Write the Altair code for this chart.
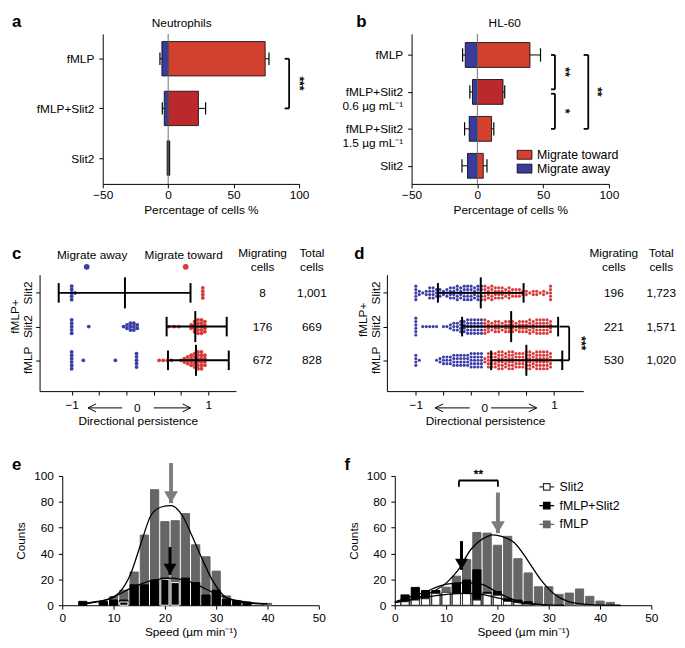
import json
import altair as alt
import pandas as pd

FONT = "Liberation Sans"
RED = "#d4402f"
RED_DARK = "#bb292c"
BLUE = "#3b3b9e"
DOT_BLUE = "#3c3fa6"
DOT_RED = "#d93b3b"
BAR_GRAY = "#666666"
ARROW_GRAY = "#7d7d7d"

# ---------------- panel a : Neutrophils ----------------
a_labels = ["fMLP", "fMLP+Slit2", "Slit2"]
a_toward = [74.1, 23.1, 1.2]
a_toward_err = [77.0, 28.6, 1.2]
a_away = [-4.8, -3.0, -0.8]
a_away_err = [-6.3, -4.5, -0.8]
a_shades = ["Migrate toward", "dark", "black"]
a_brackets = [{"y0": 0, "y1": 1, "x": 92.4, "tick": 89.0, "text": "***", "tx": 100.5}]

# ---------------- panel b : HL-60 ----------------
b_labels = [["fMLP"], ["fMLP+Slit2", "0.6 µg mL⁻¹"], ["fMLP+Slit2", "1.5 µg mL⁻¹"], ["Slit2"]]
b_toward = [40.0, 19.5, 10.8, 4.5]
b_toward_err = [48.0, 20.8, 12.5, 7.3]
b_away = [-9.2, -3.7, -6.2, -7.5]
b_away_err = [-11.2, -5.7, -9.7, -11.7]
b_shades = ["Migrate toward", "dark", "Migrate toward", "Migrate toward"]
b_brackets = [
    {"y0": 0.0, "y1": 0.93, "x": 59.0, "tick": 56.0, "text": "**", "tx": 67.0},
    {"y0": 1.05, "y1": 2.0, "x": 59.0, "tick": 56.0, "text": "*", "tx": 67.0},
    {"y0": 0.0, "y1": 2.0, "x": 84.3, "tick": 80.8, "text": "**", "tx": 91.5},
]

SHADE_DOM = ["Migrate toward", "Migrate away", "dark", "black"]
SHADE_RNG = [RED, BLUE, RED_DARK, "#111111"]

# ---------------- panel c : neutrophil persistence ----------------
c_rows = [3, 2, 1]  # Slit2, fMLP+Slit2, fMLP
c_dot_x = [
    [-1.0, -0.95, 0.92],
    [-1.0, -0.75, -0.24, -0.19, -0.14, -0.09, -0.04, 0.42, 0.5, 0.57, 0.75, 0.8, 0.85, 0.9, 0.95],
    [-1.0, -0.83, -0.36, -0.05, 0.28, 0.34, 0.4, 0.46, 0.6, 0.65, 0.7, 0.75, 0.8, 0.85, 0.9, 0.95],
]
c_dot_n = [
    [5, 1, 4],
    [5, 1, 1, 2, 3, 3, 2, 1, 1, 1, 2, 4, 5, 5, 4],
    [6, 1, 1, 5, 1, 1, 1, 1, 1, 2, 3, 4, 5, 6, 6, 4],
]
c_lo = [-1.19, 0.39, 0.41]
c_mean = [-0.22, 0.81, 0.82]
c_hi = [0.74, 1.27, 1.30]
c_migrating = ["8", "176", "672"]
c_total = ["1,001", "669", "828"]

# ---------------- panel d : HL-60 persistence ----------------
d_rows = [3, 2, 1]
d_bins = [-1.0, -0.95, -0.9, -0.85, -0.8, -0.75, -0.7, -0.65, -0.6, -0.55,
          -0.5, -0.45, -0.4, -0.35, -0.3, -0.25, -0.2, -0.15, -0.1, -0.05,
          0.0, 0.05, 0.1, 0.15, 0.2, 0.25, 0.3, 0.35, 0.4, 0.45,
          0.5, 0.55, 0.6, 0.65, 0.7, 0.75, 0.8, 0.85, 0.9, 0.95]
d_counts = [
    [5, 2, 1, 2, 4, 4, 3, 3, 2, 3, 4, 4, 5, 4, 5, 5, 5, 4, 5, 5,
     5, 4, 5, 4, 4, 4, 3, 4, 3, 3, 3, 2, 2, 1, 2, 2, 1, 2, 1, 5],
    [6, 0, 1, 1, 1, 1, 1, 0, 1, 1, 2, 3, 3, 4, 4, 5, 5, 5, 5, 5,
     5, 4, 3, 4, 4, 3, 4, 4, 4, 3, 4, 4, 4, 5, 4, 5, 5, 5, 5, 4],
    [4, 1, 0, 0, 0, 0, 1, 2, 3, 3, 3, 4, 4, 4, 4, 4, 5, 5, 5, 5,
     2, 5, 5, 5, 6, 6, 5, 6, 6, 5, 5, 5, 6, 6, 5, 6, 6, 6, 6, 5],
]
d_lo = [-0.68, -0.33, 0.09]
d_mean = [-0.06, 0.38, 0.60]
d_hi = [0.56, 1.06, 1.12]
d_migrating = ["196", "221", "530"]
d_total = ["1,723", "1,571", "1,020"]

# ---------------- panel e : neutrophil speed ----------------
e_centers_fmlp = [8, 10, 12, 14, 16, 18, 20, 22, 24, 26, 28, 30, 32, 34, 40]
e_fmlp = [2, 6.7, 11.6, 25.7, 54.3, 89.4, 64.7, 65.4, 70.9, 46.7, 37.5, 26.4, 7.2, 3.7, 1.5]
e_centers_fs = [4, 8, 10, 12, 14, 16, 18, 20, 22, 24, 26, 28, 30, 32, 34, 36]
e_fs = [3, 3, 4, 4, 15.8, 15.8, 19.5, 21, 17.5, 21, 17.5, 7.9, 11.6, 4.6, 3, 2.4]
e_centers_slit2 = [12, 20, 22]
e_slit2 = [2.5, 20, 17.5]
e_fit_fmlp_x = [3.5, 6.1, 9.3, 11.2, 13.3, 15.4, 17.3, 19.3, 21.2, 23.3, 25.3, 27.2, 29.3, 31.7, 34.9, 39.4]
e_fit_fmlp_y = [1, 2.5, 5.4, 10.2, 24, 48.6, 69.6, 76, 77, 70, 53.6, 36.3, 19, 6.7, 2.2, 0.8]
e_fit_fs_x = [3.5, 9.3, 13.3, 17.3, 21.2, 25.3, 29.3, 33, 36.9, 40]
e_fit_fs_y = [1, 5, 13, 19, 21, 17.5, 10, 4.5, 2, 1]
e_arrow_x = [21.2, 21.0]
e_arrow_top = [110, 45]
e_arrow_tip = [79, 23.5]

# ---------------- panel f : HL-60 speed ----------------
f_centers = [2, 4, 6, 8, 10, 12, 14, 16, 18, 20, 22, 24, 26, 28, 30, 32, 34, 36, 38, 40, 42]
f_fmlp = [4, 8, 9, 9, 14, 22.5, 35.3, 56.3, 55.8, 46.4, 53.3, 36, 25, 14.3, 14.3, 8.4, 9.4, 12.6, 6.9, 3.2, 2.2]
f_fs = [8, 13.8, 11.4, 11.4, 9.5, 17, 19.5, 27.4, 10, 10.6, 5, 4, 2.7, 0, 0, 0, 0, 0, 0, 0, 0]
f_slit2 = [2.7, 4, 5, 9, 10, 9, 9, 4, 9, 7.7, 3, 2.5, 1, 0, 0, 0, 0, 0, 0, 0, 0]
f_fit_fmlp_x = [0, 5.3, 10.1, 12.3, 14.9, 18.1, 19.1, 21.0, 23.3, 25.9, 28.4, 31, 33.6, 37.4, 41, 44]
f_fit_fmlp_y = [2.2, 7, 17.5, 27, 43.5, 53.3, 54.5, 53, 48.4, 34.8, 20, 8.9, 3.2, 0.6, 0.1, 0]
f_fit_fs_x = [0, 5.3, 10.1, 13.6, 16.8, 20, 23.3, 26.5, 29.7, 33]
f_fit_fs_y = [2.7, 9.4, 16.3, 17.5, 16.3, 10, 4, 1.2, 0.2, 0]
f_fit_slit2_x = [0, 5.3, 10.1, 13.6, 16.8, 20, 23.3, 26.5, 29.7]
f_fit_slit2_y = [2, 5.7, 8.4, 9.1, 8.4, 5.7, 2.7, 1, 0.2]
f_arrow_x = [20.1, 13.0]
f_arrow_top = [87.2, 49.6]
f_arrow_tip = [55.8, 27.4]

GROUPS = ["Slit2", "fMLP+Slit2", "fMLP"]


def axis(**kw):
    base = dict(grid=False, domainColor="black", tickColor="black", labelColor="black",
                titleColor="black", labelFont=FONT, titleFont=FONT, labelFontSize=12,
                titleFontSize=12, titleFontWeight="normal", tickSize=4, domainWidth=1,
                tickWidth=1, labelFlush=False)
    base.update(kw)
    return alt.Axis(**base)


def one(**cols):
    return pd.DataFrame({k: [v] for k, v in cols.items()})


def letter(ch, x, y):
    return alt.Chart(one(t=ch)).mark_text(
        font=FONT, fontSize=17, fontWeight="bold", align="left", baseline="alphabetic",
        color="black").encode(x=alt.value(x), y=alt.value(y), text="t:N")


def stars_layer(df, X, Y):
    # significance stars written vertically (rotated text, as in the figure)
    return alt.Chart(df).mark_text(font=FONT, fontSize=12, fill="#000000", stroke="#000000",
                                   strokeWidth=0.4, angle=89, baseline="middle").encode(
        x=X("tx"), y=Y("ym"), text="text:N")


def hbar_panel(labels, toward, toward_err, away, away_err, shades, brackets,
               off, w, h, ydom, half, cap, title, title_x, let, let_xy, legend):
    n = len(labels)
    xs = alt.Scale(domain=[-50, 100], range=[off, w], nice=False, zero=False)
    ys = alt.Scale(domain=ydom, reverse=True, nice=False, zero=False)
    xa = axis(values=[-50, 0, 50, 100], title="Percentage of cells %", labelPadding=2,
              titlePadding=4)
    ya = axis(values=list(range(n)),
              labelExpr=json.dumps(labels, ensure_ascii=False) + "[datum.value]",
              title=None, offset=-off, labelPadding=5, labelLineHeight=14)

    def X(f):
        return alt.X(f, type="quantitative", scale=xs, axis=xa)

    def Y(f):
        return alt.Y(f, type="quantitative", scale=ys, axis=ya)

    bars = pd.DataFrame(
        [{"y0": i - half, "y1": i + half, "v0": 0.0, "v1": toward[i], "shade": shades[i]} for i in range(n)]
        + [{"y0": i - half, "y1": i + half, "v0": 0.0, "v1": away[i], "shade": "Migrate away"} for i in range(n)])
    fill = alt.Fill("shade:N", scale=alt.Scale(domain=SHADE_DOM, range=SHADE_RNG), legend=legend)
    l_bars = alt.Chart(bars).mark_rect(stroke="black", strokeWidth=0.8).encode(
        x=X("v0"), x2="v1", y=Y("y0"), y2="y1", fill=fill)

    err_rows = []
    for i in range(n):
        if toward_err[i] != toward[i]:
            err_rows.append({"y": i, "a": toward[i], "b": toward_err[i]})
        if away_err[i] != away[i]:
            err_rows.append({"y": i, "a": away[i], "b": away_err[i]})
    err = pd.DataFrame(err_rows)
    err["c0"] = err["y"] - cap
    err["c1"] = err["y"] + cap
    l_whisk = alt.Chart(err).mark_rule(color="black", strokeWidth=1).encode(x=X("a"), x2="b", y=Y("y"))
    l_caps = alt.Chart(err).mark_rule(color="black", strokeWidth=1.2).encode(x=X("b"), y=Y("c0"), y2="c1")

    l_zero = alt.Chart(one(z=0.0)).mark_rule(color="#6f6f6f", strokeWidth=1).encode(x=X("z"))

    br = pd.DataFrame(brackets)
    br["ym"] = (br["y0"] + br["y1"]) / 2
    l_vert = alt.Chart(br).mark_rule(color="black", strokeWidth=1.8).encode(x=X("x"), y=Y("y0"), y2="y1")
    l_t0 = alt.Chart(br).mark_rule(color="black", strokeWidth=1.8).encode(x=X("tick"), x2="x", y=Y("y0"))
    l_t1 = alt.Chart(br).mark_rule(color="black", strokeWidth=1.8).encode(x=X("tick"), x2="x", y=Y("y1"))
    l_star = stars_layer(br, X, Y)

    l_title = alt.Chart(one(t=title, x=title_x)).mark_text(
        font=FONT, fontSize=12, baseline="middle", color="black").encode(
        x=X("x"), y=alt.value(-11), text="t:N")

    return alt.layer(l_bars, l_zero, l_whisk, l_caps, l_vert, l_t0, l_t1, l_star, l_title,
                     letter(let, *let_xy)).properties(width=w, height=h)


def swarm_panel(dot_x, dot_n, lo, mean, hi, xdom, w, h, let, let_xy, migr, total,
                mcol_x, tcol_x, zero_x, arrows, ylabels, header=None, bracket=None,
                dot_size=12):
    rows = [3, 2, 1]
    xs = alt.Scale(domain=xdom, nice=False, zero=False)
    ys = alt.Scale(domain=[0.086, 3.54], nice=False, zero=False)
    xa = axis(values=[-1, -0.6, -0.2, 0.2, 0.6, 1],
              labelExpr="datum.value == -1 ? '\u22121' : (datum.value == 1 ? '1' : '')",
              title="Directional persistence", labelPadding=5, titlePadding=5)
    ya = axis(values=[1, 2, 3], labels=False, title=None)

    def X(f):
        return alt.X(f, type="quantitative", scale=xs, axis=xa)

    def Y(f):
        return alt.Y(f, type="quantitative", scale=ys, axis=ya)

    dots = []
    for r, xl, nl in zip(rows, dot_x, dot_n):
        for xv, nv in zip(xl, nl):
            for k in range(nv):
                dots.append({"x": xv, "y": r + (k - (nv - 1) / 2) * 0.1,
                             "side": "away" if xv < 0 else "toward"})
    dots = pd.DataFrame(dots)
    l_dots = alt.Chart(dots).mark_circle(size=dot_size, opacity=1).encode(
        x=X("x"), y=Y("y"),
        color=alt.Color("side:N", scale=alt.Scale(domain=["away", "toward"], range=[DOT_BLUE, DOT_RED]),
                        legend=None))

    eb = pd.DataFrame({"r": rows, "lo": lo, "mean": mean, "hi": hi})
    eb["c0"] = eb["r"] - 0.29
    eb["c1"] = eb["r"] + 0.29
    eb["m0"] = eb["r"] - 0.46
    eb["m1"] = eb["r"] + 0.46
    l_line = alt.Chart(eb).mark_rule(color="black", strokeWidth=2).encode(x=X("lo"), x2="hi", y=Y("r"))
    l_clo = alt.Chart(eb).mark_rule(color="black", strokeWidth=2).encode(x=X("lo"), y=Y("c0"), y2="c1")
    l_chi = alt.Chart(eb).mark_rule(color="black", strokeWidth=2).encode(x=X("hi"), y=Y("c0"), y2="c1")
    l_mean = alt.Chart(eb).mark_rule(color="black", strokeWidth=2).encode(x=X("mean"), y=Y("m0"), y2="m1")

    tx = pd.DataFrame({"r": rows, "m": migr, "t": total})
    l_m = alt.Chart(tx).mark_text(font=FONT, fontSize=12, color="black", baseline="middle").encode(
        x=alt.value(mcol_x), y=Y("r"), text="m:N")
    l_t = alt.Chart(tx).mark_text(font=FONT, fontSize=12, color="black", baseline="middle").encode(
        x=alt.value(tcol_x), y=Y("r"), text="t:N")
    heads = pd.DataFrame({"t": ["Migrating", "cells", "Total", "cells"],
                          "x": [mcol_x, mcol_x, tcol_x, tcol_x],
                          "y": [-22, -8, -22, -8]})
    l_heads = alt.Chart(heads).mark_text(font=FONT, fontSize=12, color="black", baseline="middle").encode(
        x=alt.X("x:Q", scale=None), y=alt.Y("y:Q", scale=None), text="t:N")

    # x-axis arrows and the zero label
    ay = h + 17
    ar = pd.DataFrame({"a0": [arrows[0], arrows[2]], "a1": [arrows[1], arrows[3]]})
    l_ar = alt.Chart(ar).mark_rule(color="black", strokeWidth=1).encode(x=X("a0"), x2="a1", y=alt.value(ay))
    l_hl = alt.Chart(one(x=arrows[1])).mark_point(
        shape="M1,-1L-1,0L1,1", filled=False, size=64, color="black", strokeWidth=1, opacity=1,
        xOffset=4).encode(x=X("x"), y=alt.value(ay))
    l_hr = alt.Chart(one(x=arrows[3])).mark_point(
        shape="M-1,-1L1,0L-1,1", filled=False, size=64, color="black", strokeWidth=1, opacity=1,
        xOffset=-4).encode(x=X("x"), y=alt.value(ay))
    l_zero = alt.Chart(one(x=zero_x, t="0")).mark_text(
        font=FONT, fontSize=12, color="black", baseline="middle").encode(x=X("x"), y=alt.value(ay), text="t:N")

    yl = pd.DataFrame(ylabels, columns=["t", "px", "y"])
    l_yl = alt.Chart(yl).mark_text(font=FONT, fontSize=12, color="black", angle=270,
                                    baseline="middle", align="center").encode(
        x=alt.X("px:Q", scale=None), y=Y("y"), text="t:N")

    layers = [l_dots, l_line, l_clo, l_chi, l_mean, l_m, l_t, l_heads, l_ar, l_hl, l_hr, l_zero, l_yl,
              letter(let, *let_xy)]

    if header is not None:
        hd = pd.DataFrame(header, columns=["t", "tx", "dx", "side"])
        layers.append(alt.Chart(hd).mark_text(font=FONT, fontSize=12, color="black", baseline="middle").encode(
            x=X("tx"), y=alt.value(-20), text="t:N"))
        layers.append(alt.Chart(hd).mark_circle(size=34, opacity=1).encode(
            x=X("dx"), y=alt.value(-8),
            color=alt.Color("side:N", scale=alt.Scale(domain=["away", "toward"], range=[DOT_BLUE, DOT_RED]),
                            legend=None)))
    if bracket is not None:
        bk = pd.DataFrame([bracket])
        layers.append(alt.Chart(bk).mark_rule(color="black", strokeWidth=1.8).encode(x=X("x"), y=Y("y0"), y2="y1"))
        layers.append(alt.Chart(bk).mark_rule(color="black", strokeWidth=1.8).encode(x=X("tick"), x2="x", y=Y("y0")))
        layers.append(alt.Chart(bk).mark_rule(color="black", strokeWidth=1.8).encode(x=X("tick"), x2="x", y=Y("y1")))
        layers.append(stars_layer(bk, X, Y))
    return alt.layer(*layers).properties(width=w, height=h)


def hist_panel(series, fills, strokes, fits, arrows, off, w, h, let, let_xy, legend, bracket=None):
    xs = alt.Scale(domain=[0, 50], range=[off, w], nice=False, zero=False)
    ys = alt.Scale(domain=[0, 100], nice=False, zero=False)
    xa = axis(values=[0, 10, 20, 30, 40, 50], title="Speed (µm min⁻¹)", labelPadding=3, titlePadding=4)
    ya = axis(values=[0, 20, 40, 60, 80, 100], title="Counts", offset=-off, labelPadding=5, titlePadding=6)

    def X(f):
        return alt.X(f, type="quantitative", scale=xs, axis=xa)

    def Y(f):
        return alt.Y(f, type="quantitative", scale=ys, axis=ya)

    rows = []
    for grp in ["fMLP", "fMLP+Slit2", "Slit2"]:
        centers, vals = series[grp]
        for c, v in zip(centers, vals):
            if v > 0:
                rows.append({"x0": c - 0.8, "x1": c + 0.8, "n": v, "zero": 0.0, "grp": grp})
    bars = pd.DataFrame(rows)
    l_bars = alt.Chart(bars).mark_rect(strokeWidth=1).encode(
        x=X("x0"), x2="x1", y=Y("n"), y2="zero",
        fill=alt.Fill("grp:N", scale=alt.Scale(domain=GROUPS, range=fills), legend=legend),
        stroke=alt.Stroke("grp:N", scale=alt.Scale(domain=GROUPS, range=strokes), legend=legend))

    frows = []
    for name, (fx, fy) in fits.items():
        for a, b in zip(fx, fy):
            frows.append({"x": a, "n": b, "fit": name})
    l_fit = alt.Chart(pd.DataFrame(frows)).mark_line(
        color="black", strokeWidth=1.3, interpolate="monotone").encode(
        x=X("x"), y=Y("n"), detail="fit:N")

    layers = [l_bars, l_fit]
    for (ax, top, tip, col, sw, size) in arrows:
        d = one(x=ax, top=top, tip=tip)
        layers.append(alt.Chart(d).mark_rule(color=col, strokeWidth=sw).encode(x=X("x"), y=Y("top"), y2="tip"))
        layers.append(alt.Chart(d).mark_point(
            shape="triangle-down", filled=True, size=size, color=col, opacity=1,
            yOffset=-0.433 * size ** 0.5).encode(x=X("x"), y=Y("tip")))
    if bracket is not None:
        bk = one(**bracket)
        layers.append(alt.Chart(bk).mark_rule(color="black", strokeWidth=1.8).encode(x=X("x0"), x2="x1", y=Y("y")))
        layers.append(alt.Chart(bk).mark_rule(color="black", strokeWidth=1.8).encode(x=X("x0"), y=Y("y"), y2="yt"))
        layers.append(alt.Chart(bk).mark_rule(color="black", strokeWidth=1.8).encode(x=X("x1"), y=Y("y"), y2="yt"))
        layers.append(alt.Chart(bk).mark_text(font=FONT, fontSize=12, fill="#000000", stroke="#000000",
                                              strokeWidth=0.4, baseline="middle").encode(
            x=X("xm"), y=Y("ys"), text="t:N"))
    layers.append(letter(let, *let_xy))
    return alt.layer(*layers).properties(width=w, height=h)


# ---------------- build panels ----------------
legend_b = alt.Legend(orient="none", legendX=133, legendY=116, title=None,
                      values=["Migrate toward", "Migrate away"],
                      symbolType="M-1.25,-0.75L1.25,-0.75L1.25,0.75L-1.25,0.75Z", symbolSize=144,
                      symbolStrokeColor="black", symbolStrokeWidth=0.8, labelFont=FONT,
                      labelFontSize=12.5, labelColor="black", rowPadding=1, labelOffset=6, padding=0)

panel_a = hbar_panel(a_labels, a_toward, a_toward_err, a_away, a_away_err, a_shades, a_brackets,
                     off=64, w=263, h=152, ydom=[-0.5, 2.52], half=0.346, cap=0.125,
                     title="Neutrophils", title_x=10.3, let="a", let_xy=(-28, -7), legend=None)
panel_b = hbar_panel(b_labels, b_toward, b_toward_err, b_away, b_away_err, b_shades, b_brackets,
                     off=25, w=225, h=152, ydom=[-0.57, 3.49], half=0.336, cap=0.18,
                     title="HL-60", title_x=20.8, let="b", let_xy=(-31, -7), legend=legend_b)

panel_c = swarm_panel(c_dot_x, c_dot_n, c_lo, c_mean, c_hi, xdom=[-1.47, 1.405], w=199, h=118,
                      let="c", let_xy=(-28, -16), migr=c_migrating, total=c_total,
                      mcol_x=226, tcol_x=276, zero_x=-0.04, arrows=[-0.26, -0.76, 0.2, 0.74],
                      ylabels=[["Slit2", -12, 3], ["Slit2", -12, 2], ["fMLP+", -25, 2.3], ["fMLP", -12, 1]],
                      header=[["Migrate away", -0.70, -0.78, "away"], ["Migrate toward", 0.64, 0.67, "toward"]],
                      dot_size=15)
panel_d = swarm_panel([d_bins] * 3, d_counts, d_lo, d_mean, d_hi, xdom=[-1.419, 1.424], w=199, h=118,
                      let="d", let_xy=(-33, -16), migr=d_migrating, total=d_total,
                      mcol_x=230, tcol_x=278, zero_x=0.0, arrows=[-0.22, -0.72, 0.09, 0.75],
                      ylabels=[["Slit2", -11, 3], ["Slit2", -11, 2], ["fMLP+", -24, 2.2], ["fMLP", -11, 1]],
                      bracket={"x": 1.22, "tick": 1.08, "y0": 1, "y1": 2, "ym": 1.5, "tx": 1.40,
                               "text": "***"},
                      dot_size=10)

panel_e = hist_panel(
    {"fMLP": (e_centers_fmlp, e_fmlp), "fMLP+Slit2": (e_centers_fs, e_fs), "Slit2": (e_centers_slit2, e_slit2)},
    fills=["#000000", "#000000", BAR_GRAY], strokes=["#ffffff", "#000000", BAR_GRAY],
    fits={"fmlp": (e_fit_fmlp_x, e_fit_fmlp_y), "fs": (e_fit_fs_x, e_fit_fs_y)},
    arrows=[(e_arrow_x[0], e_arrow_top[0], e_arrow_tip[0], ARROW_GRAY, 4, 196),
            (e_arrow_x[1], e_arrow_top[1], e_arrow_tip[1], "black", 3, 169)],
    off=23, w=283, h=131, let="e", let_xy=(-28, -6), legend=None)

legend_f = alt.Legend(orient="none", legendX=155, legendY=4, title=None,
                      symbolType="M-1.25,0L-0.55,0M-0.55,-0.55L0.55,-0.55L0.55,0.55L-0.55,0.55ZM0.55,0L1.25,0",
                      symbolSize=144, symbolStrokeWidth=1.2, labelFont=FONT, labelFontSize=12.5,
                      labelColor="black", rowPadding=5, labelOffset=6, padding=0)
panel_f = hist_panel(
    {"fMLP": (f_centers, f_fmlp), "fMLP+Slit2": (f_centers, f_fs), "Slit2": (f_centers, f_slit2)},
    fills=["#ffffff", "#000000", BAR_GRAY], strokes=["#333333", "#000000", BAR_GRAY],
    fits={"fmlp": (f_fit_fmlp_x, f_fit_fmlp_y), "fs": (f_fit_fs_x, f_fit_fs_y),
          "slit2": (f_fit_slit2_x, f_fit_slit2_y)},
    arrows=[(f_arrow_x[0], f_arrow_top[0], f_arrow_tip[0], ARROW_GRAY, 4, 196),
            (f_arrow_x[1], f_arrow_top[1], f_arrow_tip[1], "black", 3, 169)],
    off=8, w=268, h=131, let="f", let_xy=(-43, -6), legend=legend_f,
    bracket={"x0": 12.5, "x1": 20.1, "y": 96.5, "yt": 91.6, "xm": 16.3, "ys": 101.5, "t": "**"})

chart = alt.concat(panel_a, panel_b, panel_c, panel_d, panel_e, panel_f, columns=2,
                   spacing={"row": 28, "column": 13}, align="each")
chart = chart.resolve_scale(fill="independent", stroke="independent", color="independent")
chart = chart.properties(padding=0).configure_view(stroke="transparent")

chart.save("out.html", embed_options={"renderer": "svg", "actions": False})
